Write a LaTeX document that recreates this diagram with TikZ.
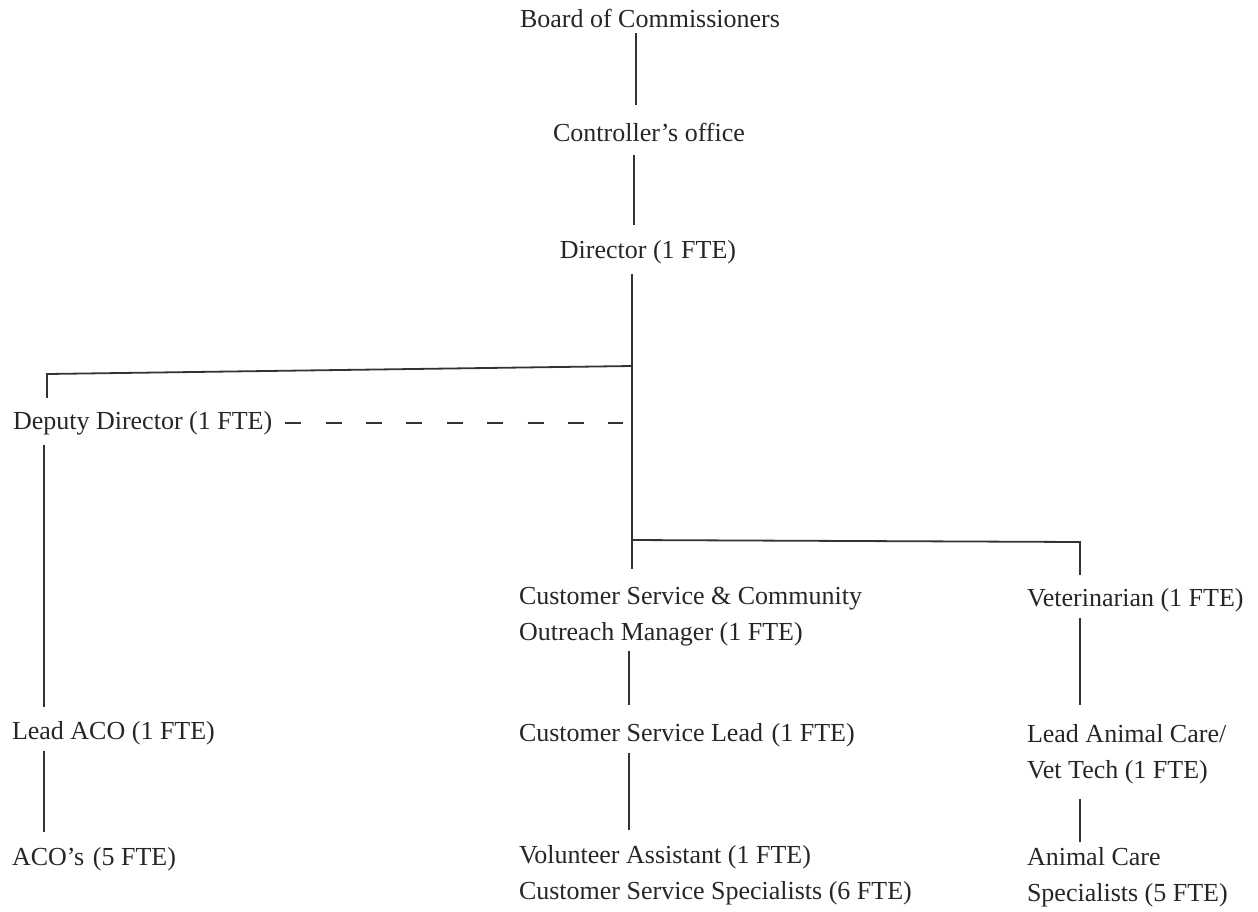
\documentclass[tikz,border=0pt]{standalone}
\usepackage{fontspec}
\setmainfont{Liberation Serif}
\begin{document}
\begin{tikzpicture}[x=0.5pt,y=-0.5pt,
  lbl/.style={inner sep=0pt, outer sep=0pt, font=\fontsize{13}{18}\selectfont, align=left, text=black!85},
  conn/.style={line width=0.9pt, draw=black!80},
  dashconn/.style={conn, dash pattern=on 8pt off 12.2pt}]
\useasboundingbox (0,0) rectangle (1258,911);
% x positions of the vertical connectors
\coordinate (xA) at (636,0);
\coordinate (xB) at (634,0);
\coordinate (trunk) at (632,0);
\coordinate (xL) at (44,0);
\coordinate (xC) at (629,0);
\coordinate (xV) at (1080,0);
% nodes (multi-line nodes are placed by the baseline of their last line)
\node[lbl, anchor=base] (board) at (650,27) {Board of Commissioners};
\node[lbl, anchor=base] (ctrl) at (649,141) {Controller’s office};
\node[lbl, anchor=base] (dir) at (648,258) {Director (1 FTE)};
\node[lbl, anchor=base west] (dep) at (13,429) {Deputy Director (1 FTE)};
\node[lbl, anchor=base west] (cscm) at (519,640) {Customer Service \& Community\\Outreach Manager (1 FTE)};
\node[lbl, anchor=base west] (vet) at (1027,606) {Veterinarian (1 FTE)};
\node[lbl, anchor=base west] (leadaco) at (12,739) {Lead ACO (1 FTE)};
\node[lbl, anchor=base west] (csl) at (519,741) {Customer Service Lead\,\,(1 FTE)};
\node[lbl, anchor=base west] (lac) at (1027,778) {Lead Animal Care/\\Vet Tech (1 FTE)};
\node[lbl, anchor=base west] (acos) at (12,865) {ACO’s\,\,(5 FTE)};
\node[lbl, anchor=base west] (vol) at (519,899) {Volunteer Assistant (1 FTE)\\Customer Service Specialists (6 FTE)};
\node[lbl, anchor=base west] (acs) at (1027,901) {Animal Care\\Specialists (5 FTE)};
% junction points
\coordinate (j1) at (632,366);
\coordinate (dl) at (47,374);
\coordinate (j2) at (631,540);
\coordinate (vr) at (1080,542);
% connectors
\draw[conn, shorten <=3pt, shorten >=9pt] (board.south -| xA) -- (ctrl.north -| xA);
\draw[conn, shorten <=7pt, shorten >=7.5pt] (ctrl.south -| xB) -- (dir.north -| xB);
\draw[conn, shorten <=5pt, shorten >=9pt] (dir.south -| trunk) -- (cscm.north -| trunk);
\draw[conn, shorten >=6.5pt] (j1) -- (dl) -- (dep.north -| dl);
\draw[dashconn, shorten <=6.5pt, shorten >=4.5pt] (dep.east) -- (dep.east -| trunk);
\draw[conn, shorten <=5pt, shorten >=7pt] (dep.south -| xL) -- (leadaco.north -| xL);
\draw[conn, shorten <=3pt, shorten >=7.5pt] (leadaco.south -| xL) -- (acos.north -| xL);
\draw[conn, shorten >=6.5pt] (j2) -- (vr) -- (vet.north -| vr);
\draw[conn, shorten <=2.5pt, shorten >=9pt] (cscm.south -| xC) -- (csl.north -| xC);
\draw[conn, shorten <=3pt, shorten >=7.5pt] (csl.south -| xC) -- (vol.north -| xC);
\draw[conn, shorten <=3pt, shorten >=9.5pt] (vet.south -| xV) -- (lac.north -| xV);
\draw[conn, shorten <=7.5pt, shorten >=2.5pt] (lac.south -| xV) -- (acs.north -| xV);
\end{tikzpicture}
\end{document}
